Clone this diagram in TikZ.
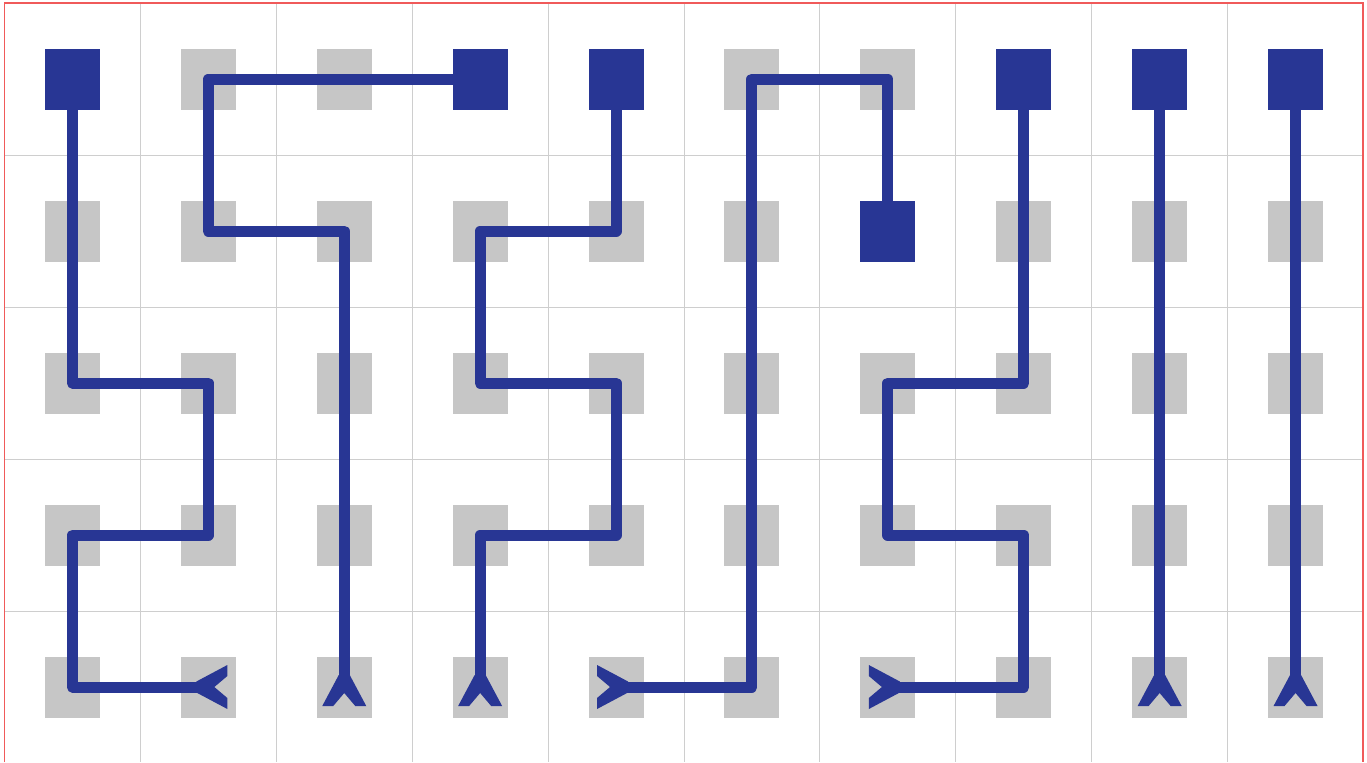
\documentclass[tikz,border=0pt]{standalone}
\usepackage{xcolor}
\usepackage{tikz}
\usetikzlibrary{calc}

\definecolor{pathblue}{RGB}{40,54,148}
\definecolor{cellgrey}{RGB}{198,198,198}
\definecolor{gridgrey}{RGB}{206,206,206}
\definecolor{framered}{RGB}{240,90,90}

\tikzset{
  route/.style={pathblue, line width=5.5pt, line join=round},
  gridline/.style={gridgrey, line width=0.5pt},
  fork/.pic={\fill[pathblue] (-12,-5.5) -- (19,-22) -- (19,-11) -- (6,0) -- (19,11) -- (19,22) -- (-12,5.5) -- cycle;}
}

\begin{document}
\begin{tikzpicture}[x=0.5pt, y=-0.5pt]

    % =================================================================
    % 1. KHUNG VA LUOI
    % =================================================================
    \useasboundingbox (0,0) rectangle (1367,762);

    % Luoi o vuong mau xam nhat
    \foreach \k in {1,...,9}
        \draw[gridline] ({4.5+135.9*\k},3) -- ({4.5+135.9*\k},762);
    \foreach \k in {1,...,4}
        \draw[gridline] (4.5,{3+152*\k}) -- (1363,{3+152*\k});

    % Vien do
    \draw[framered, line width=0.75pt] (4.5,762) -- (4.5,3) -- (1363,3) -- (1363,762);

    % =================================================================
    % 2. TOA DO TAM CAC O
    % =================================================================
    \foreach \i in {1,...,10}
        \foreach \j in {1,...,5}
            \coordinate (c-\i-\j) at ({4.5+135.9*(\i-0.5)},{79+152*(\j-1)});

    % O vuong xam
    \foreach \i in {1,...,10}
        \foreach \j in {1,...,5}
            \fill[cellgrey] ($(c-\i-\j)+(-27.5,-30.5)$) rectangle ++(55,61);

    % =================================================================
    % 3. CAC DUONG DI
    % =================================================================
    \draw[route] (c-1-1) -- (c-1-3) -- (c-2-3) -- (c-2-4) -- (c-1-4) -- (c-1-5) -- (c-2-5);
    \draw[route] (c-4-1) -- (c-2-1) -- (c-2-2) -- (c-3-2) -- (c-3-5);
    \draw[route] (c-5-1) -- (c-5-2) -- (c-4-2) -- (c-4-3) -- (c-5-3) -- (c-5-4) -- (c-4-4) -- (c-4-5);
    \draw[route] (c-7-2) -- (c-7-1) -- (c-6-1) -- (c-6-5) -- (c-5-5);
    \draw[route] (c-8-1) -- (c-8-3) -- (c-7-3) -- (c-7-4) -- (c-8-4) -- (c-8-5) -- (c-7-5);
    \draw[route] (c-9-1) -- (c-9-5);
    \draw[route] (c-10-1) -- (c-10-5);

    % =================================================================
    % 4. DIEM DAU (O XANH) VA DIEM CUOI (NGA BA)
    % =================================================================
    \foreach \p in {1-1, 4-1, 5-1, 8-1, 9-1, 10-1, 7-2}
        \fill[pathblue] ($(c-\p)+(-27.5,-30.5)$) rectangle ++(55,61);

    \pic[rotate=0] at (c-2-5) {fork};
    \pic[rotate=-90] at (c-3-5) {fork};
    \pic[rotate=-90] at (c-4-5) {fork};
    \pic[rotate=180] at (c-5-5) {fork};
    \pic[rotate=180] at (c-7-5) {fork};
    \pic[rotate=-90] at (c-9-5) {fork};
    \pic[rotate=-90] at (c-10-5) {fork};

\end{tikzpicture}
\end{document}
